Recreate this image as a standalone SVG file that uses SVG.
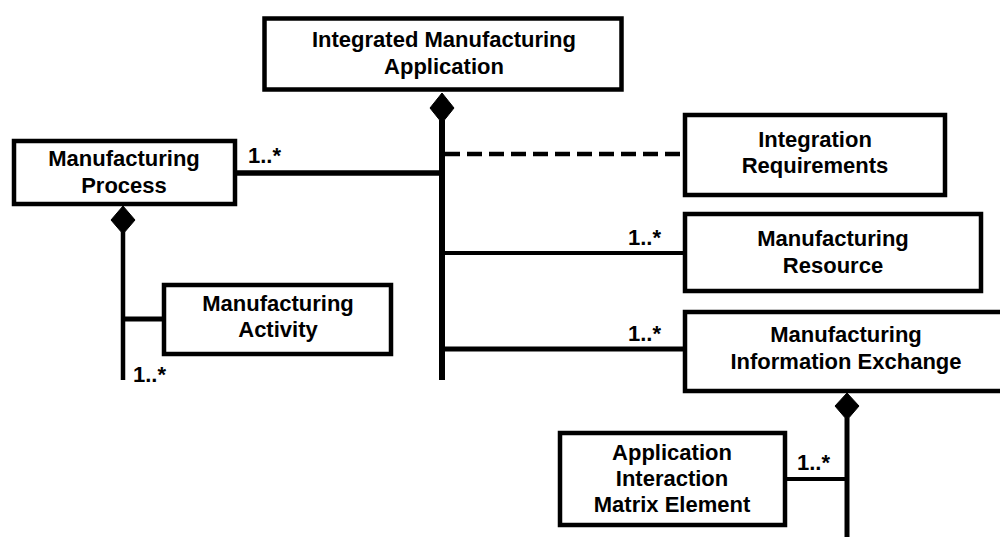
<svg xmlns="http://www.w3.org/2000/svg" width="1000" height="537" viewBox="0 0 1000 537">
  <style>
    .box { fill: #ffffff; stroke: #000000; stroke-width: 4.5; }
    .lbl { font-family: "Liberation Sans", Arial, sans-serif; font-weight: bold; font-size: 22px; fill: #000000; text-anchor: middle; }
    .mult { font-family: "Liberation Sans", Arial, sans-serif; font-weight: bold; font-size: 22px; fill: #000000; }
    .ln { stroke: #000000; fill: none; }
    .dia { fill: #000000; stroke: #000000; stroke-width: 1; }
  </style>
  <rect width="1000" height="537" fill="#ffffff"/>

  <g id="connectors">
    <line class="ln" x1="442" y1="120" x2="442" y2="380" stroke-width="6"/>
    <line class="ln" x1="237" y1="173" x2="442" y2="173" stroke-width="5.5"/>
    <line class="ln" x1="445" y1="154" x2="683" y2="154" stroke-width="4.5" stroke-dasharray="15 7"/>
    <line class="ln" x1="442" y1="253" x2="683" y2="253" stroke-width="4"/>
    <line class="ln" x1="442" y1="349" x2="683" y2="349" stroke-width="5"/>
    <line class="ln" x1="123" y1="232" x2="123" y2="380" stroke-width="4.5"/>
    <line class="ln" x1="123" y1="319" x2="162" y2="319" stroke-width="5"/>
    <line class="ln" x1="847" y1="418" x2="847" y2="537" stroke-width="5"/>
    <line class="ln" x1="787" y1="479" x2="847" y2="479" stroke-width="4"/>
    <polygon class="dia" points="442,93 454,108 442,123 430,108"/>
    <polygon class="dia" points="123,206 135,220 123,234 111,220"/>
    <polygon class="dia" points="847,393 859,406 847,420 835,406"/>
    <text class="mult" x="248" y="163">1..*</text>
    <text class="mult" x="628" y="245">1..*</text>
    <text class="mult" x="628" y="341">1..*</text>
    <text class="mult" x="133" y="382">1..*</text>
    <text class="mult" x="797" y="470">1..*</text>
  </g>

  <g id="integrated-manufacturing-application">
    <rect class="box" x="264.5" y="18.5" width="357" height="71" stroke-width="5"/>
    <text class="lbl" x="444" y="47">Integrated Manufacturing</text>
    <text class="lbl" x="444" y="74">Application</text>
  </g>

  <g id="manufacturing-process">
    <rect class="box" x="14" y="141" width="221" height="63"/>
    <text class="lbl" x="124" y="166">Manufacturing</text>
    <text class="lbl" x="124" y="193">Process</text>
  </g>

  <g id="integration-requirements">
    <rect class="box" x="685" y="115" width="260" height="80"/>
    <text class="lbl" x="815" y="147">Integration</text>
    <text class="lbl" x="815" y="173">Requirements</text>
  </g>

  <g id="manufacturing-resource">
    <rect class="box" x="685" y="214" width="296" height="77"/>
    <text class="lbl" x="833" y="246">Manufacturing</text>
    <text class="lbl" x="833" y="273">Resource</text>
  </g>

  <g id="manufacturing-information-exchange">
    <rect class="box" x="685" y="312" width="330" height="79"/>
    <text class="lbl" x="846" y="342">Manufacturing</text>
    <text class="lbl" x="846" y="369">Information Exchange</text>
  </g>

  <g id="manufacturing-activity">
    <rect class="box" x="164" y="285" width="227" height="69"/>
    <text class="lbl" x="278" y="311">Manufacturing</text>
    <text class="lbl" x="278" y="337">Activity</text>
  </g>

  <g id="application-interaction-matrix-element">
    <rect class="box" x="560" y="433" width="225" height="92"/>
    <text class="lbl" x="672" y="460">Application</text>
    <text class="lbl" x="672" y="486">Interaction</text>
    <text class="lbl" x="672" y="512">Matrix Element</text>
  </g>
</svg>
